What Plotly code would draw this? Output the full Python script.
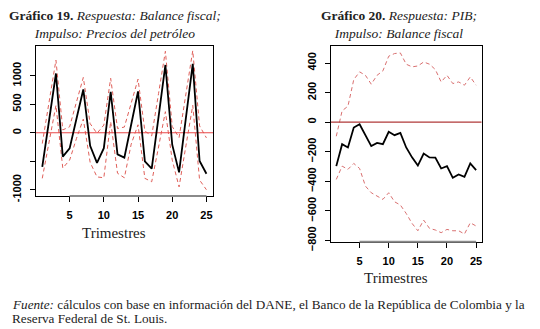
import plotly.graph_objects as go

W, H = 540, 329

trimestres = list(range(1, 26))

# Gráfico 19: Respuesta Balance fiscal / Impulso Precios del petróleo
bf_resp = [-600, 220, 1040, -420, -275, 245, 760, -230, -530, -270, 720, -378, -436,
           145, 725, -500, -630, 280, 1190, -210, -695, 260, 1210, -495, -720]
bf_sup = [-190, 540, 1275, 50, 105, 540, 970, 160, -10, 135, 955, 75, 100,
          520, 940, 30, -55, 690, 1430, 110, -85, 680, 1440, 120, -90]
bf_inf = [-800, -150, 480, -620, -480, -100, 240, -520, -775, -790, 195, -710, -790,
          -200, 140, -800, -860, -250, 370, -480, -950, -230, 480, -830, -1000]

# Gráfico 20: Respuesta PIB / Impulso Balance fiscal
pib_resp = [-297, -149, -171, -36, -14, -83, -162, -140, -149, -65, -88, -72, -171,
            -238, -293, -212, -238, -240, -313, -297, -376, -353, -369, -279, -324]
pib_sup = [-95, 77, 108, 288, 340, 317, 257, 317, 347, 446, 464, 468, 392,
           374, 380, 407, 392, 356, 272, 317, 261, 272, 250, 306, 250]
pib_inf = [-387, -297, -319, -279, -313, -432, -477, -500, -522, -477, -538, -560, -617,
           -684, -734, -662, -718, -729, -747, -725, -734, -734, -756, -680, -702]

x_ticks = [5, 10, 15, 20, 25]
y1_ticks = [-1000, -500, 0, 500, 1000]
y1_text = ["-1000", "", "0", "500", "1000"]
y2_ticks = [-800, -600, -400, -200, 0, 200, 400]

def px(v):
    return v / W

def py(v):
    return 1 - v / H

fig = go.Figure()

DASH = "4px,3px"
RED_DASH = "#e0605a"
# left chart
fig.add_trace(go.Scatter(x=trimestres, y=bf_sup, mode="lines", line=dict(color=RED_DASH, width=1, dash=DASH), xaxis="x", yaxis="y"))
fig.add_trace(go.Scatter(x=trimestres, y=bf_inf, mode="lines", line=dict(color=RED_DASH, width=1, dash=DASH), xaxis="x", yaxis="y"))
fig.add_trace(go.Scatter(x=[0.04, 25.96], y=[0, 0], mode="lines", line=dict(color="#e84848", width=1.2), xaxis="x", yaxis="y"))
fig.add_trace(go.Scatter(x=trimestres, y=bf_resp, mode="lines", line=dict(color="black", width=1.8), xaxis="x", yaxis="y"))

# right chart
RED_DASH2 = "#d97070"
fig.add_trace(go.Scatter(x=trimestres, y=pib_sup, mode="lines", line=dict(color=RED_DASH2, width=1, dash=DASH), xaxis="x2", yaxis="y2"))
fig.add_trace(go.Scatter(x=trimestres, y=pib_inf, mode="lines", line=dict(color=RED_DASH2, width=1, dash=DASH), xaxis="x2", yaxis="y2"))
fig.add_trace(go.Scatter(x=[0.04, 25.96], y=[0, 0], mode="lines", line=dict(color="#b03838", width=1.2), xaxis="x2", yaxis="y2"))
fig.add_trace(go.Scatter(x=trimestres, y=pib_resp, mode="lines", line=dict(color="black", width=1.8), xaxis="x2", yaxis="y2"))

tickfont = dict(family="Liberation Sans, Arial, sans-serif", size=11, color="black", weight="bold")
axis_common = dict(showline=True, mirror=True, linecolor="black", linewidth=1,
                   ticks="outside", ticklen=5, tickcolor="black", tickwidth=1,
                   showgrid=False, zeroline=False, tickfont=tickfont, automargin=False)

fig.update_layout(
    template="none",
    width=W, height=H,
    margin=dict(l=0, r=0, t=0, b=0, pad=0),
    paper_bgcolor="white", plot_bgcolor="white",
    showlegend=False,
    xaxis=dict(domain=[px(35.7), px(213)], range=[0.04, 25.96], tickvals=x_ticks,
               anchor="y", ticklabelstandoff=4, **axis_common),
    yaxis=dict(domain=[py(196), py(45.7)], range=[-1110, 1528], tickvals=y1_ticks,
               ticktext=y1_text, tickangle=-90, anchor="x", ticklabelstandoff=4, **axis_common),
    xaxis2=dict(domain=[px(330.7), px(481.7)], range=[0.04, 25.96], tickvals=x_ticks,
                anchor="y2", ticklabelstandoff=4, **axis_common),
    yaxis2=dict(domain=[py(241.7), py(46)], range=[-808, 515], tickvals=y2_ticks,
                tickangle=-90, anchor="x2", ticklabelstandoff=4, **axis_common),
)

# gray axis segments along bottom (R axis line from first to last tick)
for xa, ybot in (("x", 196), ("x2", 241.7)):
    fig.add_shape(type="line", xref=xa, yref="paper", x0=5, x1=25, y0=py(ybot), y1=py(ybot),
                  line=dict(color="#8a8a8a", width=2), layer="above")

serif = "Liberation Serif, Times New Roman, serif"

def note(x, y, text, size, xanchor="center", align="center"):
    fig.add_annotation(x=px(x), y=py(y), xref="paper", yref="paper", showarrow=False,
                       xanchor=xanchor, yanchor="middle", text=text, align=align,
                       font=dict(family=serif, size=size, color="#222"))

note(115, 24, "<b>Gráfico 19.</b> <i>Respuesta: Balance fiscal;</i><br><i>Impulso: Precios del petróleo</i>", 13.5)
note(399, 24, "<b>Gráfico 20.</b> <i>Respuesta: PIB;</i><br><i>Impulso: Balance fiscal</i>", 13.5)
note(114, 233, "Trimestres", 15)
note(396, 278, "Trimestres", 15)
note(10, 304, "<i>Fuente:</i> cálculos con base en información del DANE, el Banco de la República de Colombia y la",
     13.2, xanchor="left", align="left")
note(10, 318.5, "Reserva Federal de St. Louis.", 13.2, xanchor="left", align="left")

fig.write_html("out.html", config={"displayModeBar": False},
               post_script="document.body.style.margin='0';document.body.style.overflow='hidden';")
